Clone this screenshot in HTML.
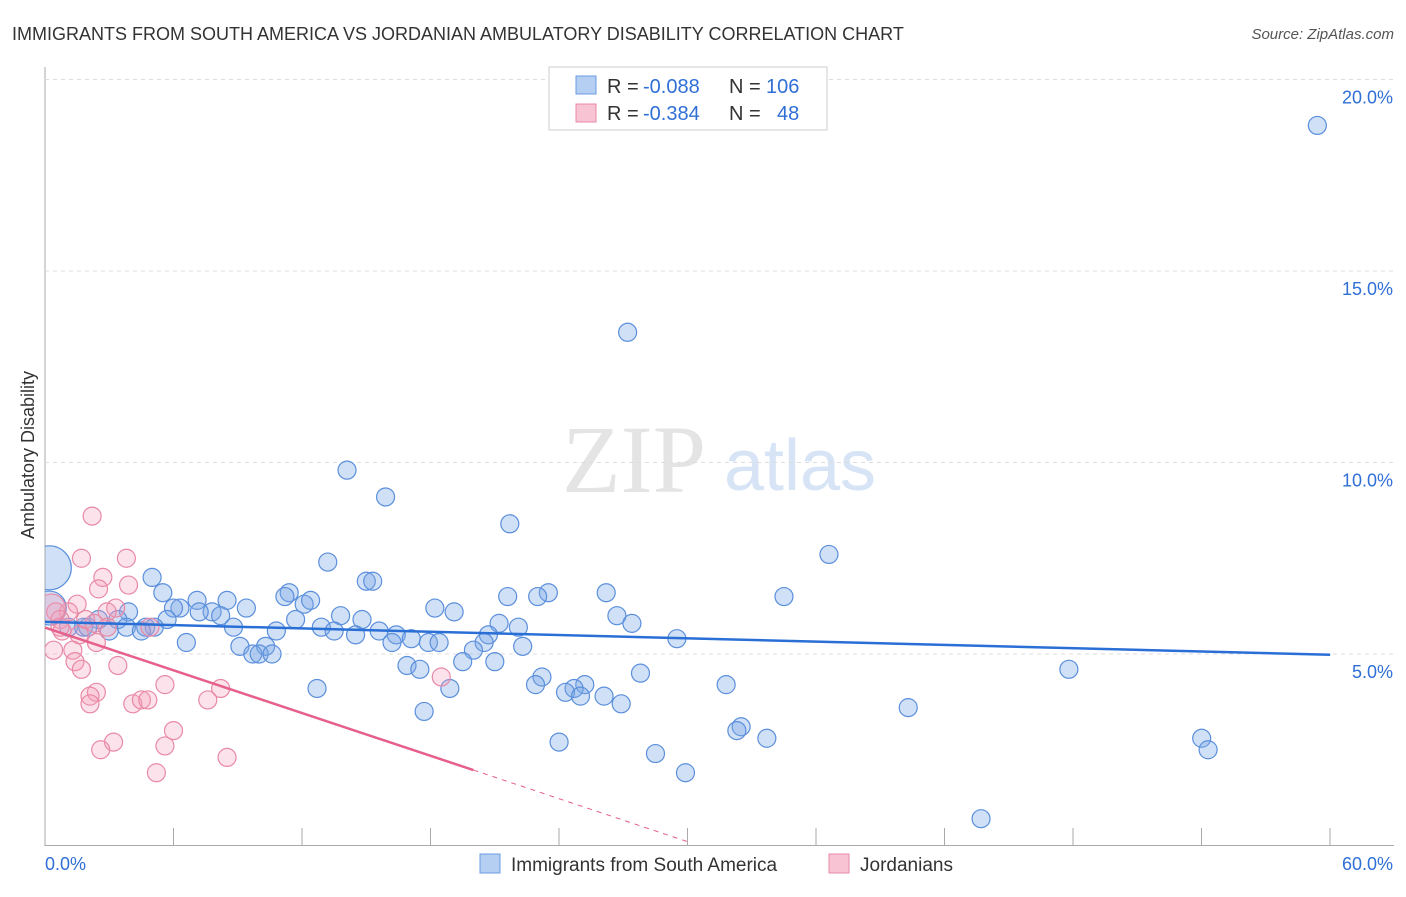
<!DOCTYPE html>
<html><head><meta charset="utf-8"><style>
body{margin:0;background:#fff;font-family:"Liberation Sans",sans-serif}
</style></head><body>
<svg id="c" width="1406" height="892" xmlns="http://www.w3.org/2000/svg">
<defs><clipPath id="plot"><rect x="45" y="60" width="1360" height="786"/></clipPath></defs>
<text x="12" y="40" font-size="18" fill="#333">IMMIGRANTS FROM SOUTH AMERICA VS JORDANIAN AMBULATORY DISABILITY CORRELATION CHART</text>
<text x="1394" y="39" font-size="15" fill="#555" text-anchor="end" font-style="italic">Source: ZipAtlas.com</text>
<text x="634" y="492" font-size="96" fill="#e4e4e4" font-family="Liberation Serif" text-anchor="middle">ZIP</text>
<text x="800" y="490" font-size="72" fill="#d6e4f5" text-anchor="middle">atlas</text>
<text transform="translate(34,455) rotate(-90)" font-size="18" fill="#333" text-anchor="middle">Ambulatory Disability</text>
<g id="grid"></g><g id="pts" clip-path="url(#plot)"></g><g id="lines"></g>
<g>
<rect x="549" y="67" width="278" height="63" fill="#fff" stroke="#ccc"/>
<rect x="576" y="76" width="20" height="18" fill="#b5cff3" stroke="#6b9be0"/>
<rect x="576" y="104" width="20" height="18" fill="#f8c4d3" stroke="#e889a6"/>
<text x="607" y="93" font-size="20" fill="#333">R =</text>
<text x="643" y="93" font-size="20" fill="#2f6fd6">-0.088</text>
<text x="729" y="93" font-size="20" fill="#333">N =</text>
<text x="766" y="93" font-size="20" fill="#2f6fd6">106</text>
<text x="607" y="120" font-size="20" fill="#333">R =</text>
<text x="643" y="120" font-size="20" fill="#2f6fd6">-0.384</text>
<text x="729" y="120" font-size="20" fill="#333">N =</text>
<text x="777" y="120" font-size="20" fill="#2f6fd6">48</text>
</g>
<g>
<rect x="480" y="854" width="20" height="19" fill="#b5cff3" stroke="#6b9be0"/>
<text x="511" y="871" font-size="19" fill="#333">Immigrants from South America</text>
<rect x="829" y="854" width="20" height="19" fill="#f8c4d3" stroke="#e889a6"/>
<text x="860" y="871" font-size="19" fill="#333">Jordanians</text>
</g>
</svg>
<script>
const yTicks=[5,10,15,20];
const yTickLabels=["5.0%","10.0%","15.0%","20.0%"];
const xTickLabels=["0.0%","60.0%"];
const blueX=[59.4,27.2,14.1,15.9,21.7,36.6,13.2,5.0,15.0,15.3,23.5,5.5,26.2,21.6,23.0,34.5,11.4,11.2,7.1,8.5,12.1,12.4,6.3,6.0,7.8,7.2,9.4,3.9,18.2,19.1,26.7,13.8,14.8,11.7,8.2,27.4,5.7,2.5,3.4,4.7,5.1,1.1,1.8,8.8,12.9,22.1,21.2,10.8,13.5,14.5,15.6,16.4,17.1,20.7,3.8,4.5,3.0,2.0,17.9,18.4,16.2,20.5,29.5,6.6,9.1,10.3,9.7,10.0,10.6,22.3,20.0,21.0,19.5,16.9,17.5,27.8,23.2,22.9,25.2,24.7,47.8,31.8,12.7,18.9,24.3,25.0,26.1,26.9,17.7,40.3,32.5,32.3,33.7,24.0,28.5,29.9,54.0,54.3,43.7,0.2,0.2];
const blueY=[18.8,13.4,9.8,9.1,8.4,7.6,7.4,7.0,6.9,6.9,6.6,6.6,6.6,6.5,6.5,6.5,6.6,6.5,6.4,6.4,6.3,6.4,6.2,6.2,6.1,6.1,6.2,6.1,6.2,6.1,6.0,6.0,5.9,5.9,6.0,5.8,5.9,5.9,5.9,5.7,5.7,5.7,5.7,5.7,5.7,5.7,5.8,5.6,5.6,5.5,5.6,5.5,5.4,5.5,5.7,5.6,5.6,5.7,5.3,5.3,5.3,5.3,5.4,5.3,5.2,5.2,5.0,5.0,5.0,5.2,5.1,4.8,4.8,4.7,4.6,4.5,4.4,4.2,4.2,4.1,4.6,4.2,4.1,4.1,4.0,3.9,3.9,3.7,3.5,3.6,3.1,3.0,2.8,2.7,2.4,1.9,2.8,2.5,0.7,7.25,6.2];
const blueR=[9,9,9,9,9,9,9,9,9,9,9,9,9,9,9,9,9,9,9,9,9,9,9,9,9,9,9,9,9,9,9,9,9,9,9,9,9,9,9,9,9,9,9,9,9,9,9,9,9,9,9,9,9,9,9,9,9,9,9,9,9,9,9,9,9,9,9,9,9,9,9,9,9,9,9,9,9,9,9,9,9,9,9,9,9,9,9,9,9,9,9,9,9,9,9,9,9,9,9,22,17];
const pinkX=[2.2,1.7,3.8,2.7,3.9,2.5,1.5,1.1,3.3,2.9,0.5,0.7,1.9,2.3,2.9,4.9,0.8,1.6,2.4,0.4,1.3,1.4,1.7,3.4,5.6,8.2,18.5,2.4,2.1,2.1,4.1,4.5,4.8,7.6,6.0,3.2,2.6,5.6,8.5,5.2,0.3,0.7];
const pinkY=[8.6,7.5,7.5,7.0,6.8,6.7,6.3,6.1,6.2,6.1,6.1,5.9,5.9,5.8,5.7,5.7,5.6,5.5,5.3,5.1,5.1,4.8,4.6,4.7,4.2,4.1,4.4,4.0,3.9,3.7,3.7,3.8,3.8,3.8,3.0,2.7,2.5,2.6,2.3,1.9,6.2,5.7];
const blueTrend=[[0,5.84],[60,4.98]];
const pinkTrend=[[0,5.69],[20,1.97]];
const pinkDash=[[20,1.97],[30,0.1]];
const X=v=>45+v*21.42, Y=v=>845.5-v*38.3;
const NS="http://www.w3.org/2000/svg";
function mk(t,a,p){const e=document.createElementNS(NS,t);for(const k in a)e.setAttribute(k,a[k]);p.appendChild(e);return e;}
const g=document.getElementById('grid');
const ax=mk('line',{x1:45,y1:67,x2:45,y2:846,stroke:'#aaa'},g);

const bx=mk('line',{x1:45,y1:845.5,x2:1394,y2:845.5,stroke:'#aaa'},g);

yTicks.forEach((t,i)=>{
 const l=mk('line',{x1:45,y1:Y(t),x2:1394,y2:Y(t),stroke:'#ddd','stroke-dasharray':'4,4'},g);
 
 const tx=mk('text',{x:1393,y:Y(t)+24,'font-size':18,fill:'#2f6fd6','text-anchor':'end'},g);
 tx.textContent=yTickLabels[i];
 
});
for(let i=1;i<=10;i++){const l=mk('line',{x1:45+i*128.5,y1:828,x2:45+i*128.5,y2:845,stroke:'#aaa'},g);
 }
[[X(0),'start',xTickLabels[0]],[1393,'end',xTickLabels[1]]].forEach(d=>{
 const tx=mk('text',{x:d[0],y:870,'font-size':18,fill:'#2f6fd6','text-anchor':d[1]},g);tx.textContent=d[2];
 });
const p=document.getElementById('pts');
blueX.forEach((x,i)=>{const c=mk('circle',{cx:X(x),cy:Y(blueY[i]),r:blueR[i],fill:'rgba(120,165,230,0.35)',stroke:'#5b8fdc','stroke-width':1.2},p);
 });
pinkX.forEach((x,i)=>{const c=mk('circle',{cx:X(x),cy:Y(pinkY[i]),r:i==40?14:9,fill:'rgba(244,160,185,0.3)',stroke:'#e889a6','stroke-width':1.2},p);
 });
const L=document.getElementById('lines');
const b=mk('line',{x1:X(blueTrend[0][0]),y1:Y(blueTrend[0][1]),x2:X(blueTrend[1][0]),y2:Y(blueTrend[1][1]),stroke:'#2a6fd6','stroke-width':2.5},L);

const r=mk('line',{x1:X(pinkTrend[0][0]),y1:Y(pinkTrend[0][1]),x2:X(pinkTrend[1][0]),y2:Y(pinkTrend[1][1]),stroke:'#e5608a','stroke-width':2.5},L);

const d=mk('line',{x1:X(pinkDash[0][0]),y1:Y(pinkDash[0][1]),x2:X(pinkDash[1][0]),y2:Y(pinkDash[1][1]),stroke:'#e5608a','stroke-width':1,'stroke-dasharray':'5,5'},L);

</script>
</body></html>
